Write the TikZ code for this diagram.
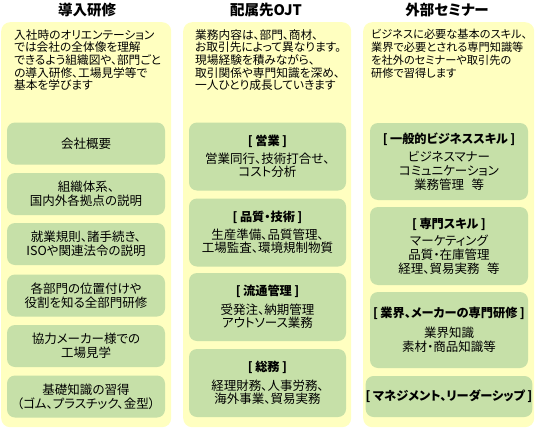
\documentclass[tikz,border=0pt]{standalone}
\usepackage{fontspec}
\setmainfont[RawFeature=+palt]{Noto Sans CJK JP}
\definecolor{panelY}{RGB}{255,255,192}
\definecolor{boxG}{RGB}{198,224,168}
\begin{document}
\begin{tikzpicture}[x=1pt,y=-1pt,
  panel/.style={fill=panelY, draw=none, rounded corners=9pt, inner sep=0pt, anchor=north west},
  gbox/.style={fill=boxG, draw=none, rounded corners=8pt, align=center, inner sep=0pt,
               font=\fontsize{12.5}{13.7}\selectfont},
  ptext/.style={anchor=north west, align=left, inner sep=0pt, font=\fontsize{11.7}{12.7}\selectfont},
  ttl/.style={inner sep=0pt, font=\fontsize{14.5}{16}\selectfont\bfseries},
  c1/.style={gbox, minimum width=158, minimum height=42},
  c2/.style={gbox, minimum width=157, minimum height=68},
  c3/.style={gbox, minimum width=158}]
\newcommand{\hdr}[1]{{\fontsize{12.2}{13.7}\selectfont\bfseries [\hspace{0.2em}#1\hspace{0.2em}]}}
\useasboundingbox (0,0) rectangle (535,428);

% panels
\node[panel, minimum width=170, minimum height=405] (p1) at (1,22) {};
\node[panel, minimum width=168, minimum height=405] (p2) at (183,22) {};
\node[panel, minimum width=171, minimum height=405] (p3) at (363,22) {};

% titles
\node[ttl] (t1) at (87,10) {導入研修};
\node[ttl] (t2) at (266,10) {配属先OJT};
\node[ttl] (t3) at (447,10) {外部セミナー};

% panel texts
\node[ptext] (d1) at (14,29) {入社時のオリエンテーション\\では会社の全体像を理解\\できるよう組織図や、部門ごと\\の導入研修、工場見学等で\\基本を学びます};
\node[ptext] (d2) at (195,29) {業務内容は、部門、商材、\\お取引先によって異なります。\\現場経験を積みながら、\\取引関係や専門知識を深め、\\一人ひとり成長していきます};
\node[ptext, font=\fontsize{11.2}{12.7}\selectfont] (d3) at (371,29.3) {ビジネスに必要な基本のスキル、\\業界で必要とされる専門知識等\\を社外のセミナーや取引先の\\研修で習得します};

% column 1 boxes
\node[c1] (a1) at (86,143.5) {会社概要};
\node[c1] (a2) at (86,194) {組織体系、\\国内外各拠点の説明};
\node[c1] (a3) at (86,244) {就業規則、諸手続き、\\ISOや関連法令の説明};
\node[c1] (a4) at (86,295.5) {各部門の位置付けや\\役割を知る全部門研修};
\node[c1] (a5) at (86,346) {協力メーカー様での\\工場見学};
\node[c1] (a6) at (86,396.5) {基礎知識の習得\\（ゴム、プラスチック、金型）};

% column 2 boxes
\node[c2] (b1) at (267.5,156.5) {\hdr{営業}\\[4pt]営業同行、技術打合せ、\\コスト分析};
\node[c2] (b2) at (267.5,232.5) {\hdr{品質・技術}\\[4pt]生産準備、品質管理、\\工場監査、環境規制物質};
\node[c2] (b3) at (267.5,307) {\hdr{流通管理}\\[5pt]受発注、納期管理\\アウトソース業務};
\node[c2] (b4) at (267.5,383) {\hdr{総務}\\[5pt]経理財務、人事労務、\\海外事業、貿易実務};

% column 3 boxes
\node[c3, minimum height=77] (e1) at (449,161.5) {\hdr{一般的ビジネススキル}\\[5pt]ビジネスマナー\\コミュニケーション\\業務管理\hspace{0.6em}等};
\node[c3, minimum height=78] (e2) at (449,246) {\hdr{専門スキル}\\[4pt]マーケティング\\品質・在庫管理\\経理、貿易実務\hspace{0.6em}等};
\node[c3, minimum height=76] (e3) at (449,330) {\hdr{業界、メーカーの専門研修}\\[6pt]業界知識\\素材・商品知識等};
\node[c3, minimum height=41] (e4) at (449,396.5) {\hdr{マネジメント、リーダーシップ}};
\end{tikzpicture}
\end{document}
